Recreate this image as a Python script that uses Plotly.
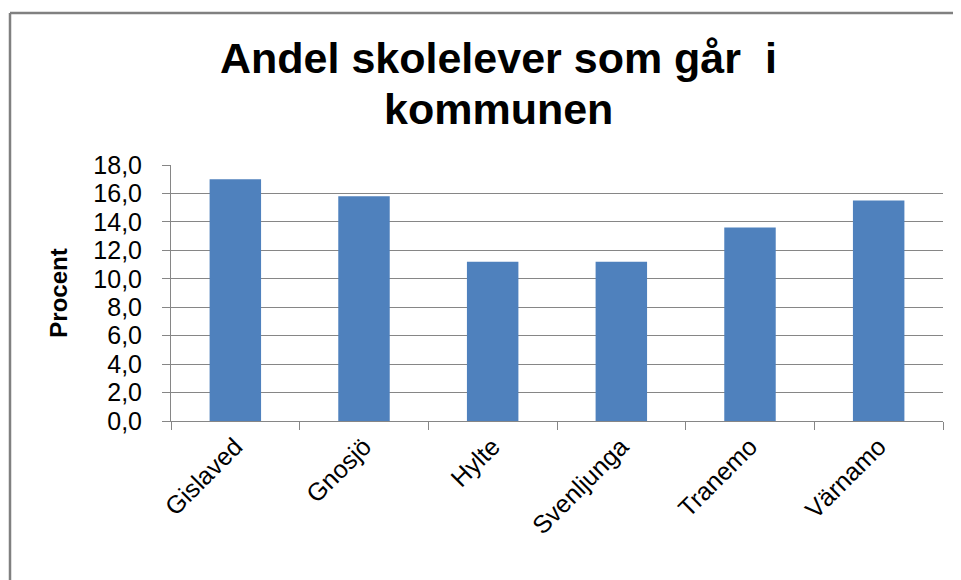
import plotly.graph_objects as go

categories = ["Gislaved", "Gnosjö", "Hylte", "Svenljunga", "Tranemo", "Värnamo"]
values = [17.0, 15.8, 11.2, 11.2, 13.6, 15.5]
y_ticks = [0, 2, 4, 6, 8, 10, 12, 14, 16, 18]
y_tick_labels = ["0,0", "2,0", "4,0", "6,0", "8,0", "10,0", "12,0", "14,0", "16,0", "18,0"]
title_lines = ["Andel skolelever som går  i", "kommunen"]
y_title = "Procent"

# page has an 8px body margin; work in figure coordinates (screen - 8)
OFF = 8
W, H = 961 - OFF, 580 - OFF
L, R, T, B = 171 - OFF, 943 - OFF, 165 - OFF, 421 - OFF

px = lambda x: (x - OFF - L) / (R - L)
py = lambda y: (B - (y - OFF)) / (B - T)

fig = go.Figure(go.Bar(x=categories, y=values, marker_color="#4F81BD",
                       marker_line_width=0, width=0.4))

fig.update_layout(
    width=W, height=H,
    margin=dict(l=L, r=W - R, t=T, b=H - B, pad=0),
    paper_bgcolor="white", plot_bgcolor="white",
    font=dict(family="Liberation Sans, Arial, sans-serif", color="black"),
    showlegend=False,
    bargap=0.6,
)

# title as two centred lines (screen centre y of each line)
for line, yc in zip(title_lines, [58, 109]):
    fig.add_annotation(text=line, x=px(498), y=py(yc), xref="paper", yref="paper",
                       xanchor="center", yanchor="middle", showarrow=False,
                       font=dict(size=43, weight="bold", color="black"))

fig.update_xaxes(
    showgrid=False, showline=True, linecolor="#868686", linewidth=1,
    ticks="outside", ticklen=8, tickcolor="#868686", tickson="boundaries",
    tickangle=-45, tickfont=dict(size=25), fixedrange=True,
)
fig.update_yaxes(
    range=[0, 18], tickvals=y_ticks, ticktext=y_tick_labels,
    showgrid=True, gridcolor="#868686", gridwidth=1,
    showline=True, linecolor="#868686", linewidth=1,
    ticks="outside", ticklen=8, tickcolor="#868686",
    tickfont=dict(size=25), ticklabelstandoff=15, zeroline=False,
    title=dict(text=y_title, font=dict(size=24, weight="bold"), standoff=18),
    fixedrange=True,
)

# outer chart frame (left, top, right edges)
frame = dict(color="#808080", width=2.5)
x_l, x_r, y_t, y_b = px(10), px(958), py(13), py(600)
fig.add_shape(type="line", xref="paper", yref="paper", x0=x_l, x1=x_r, y0=y_t, y1=y_t, line=frame)
fig.add_shape(type="line", xref="paper", yref="paper", x0=x_l, x1=x_l, y0=y_b, y1=y_t, line=frame)
fig.add_shape(type="line", xref="paper", yref="paper", x0=x_r, x1=x_r, y0=y_b, y1=y_t, line=frame)

fig.write_html("out.html", config={"displayModeBar": False})
